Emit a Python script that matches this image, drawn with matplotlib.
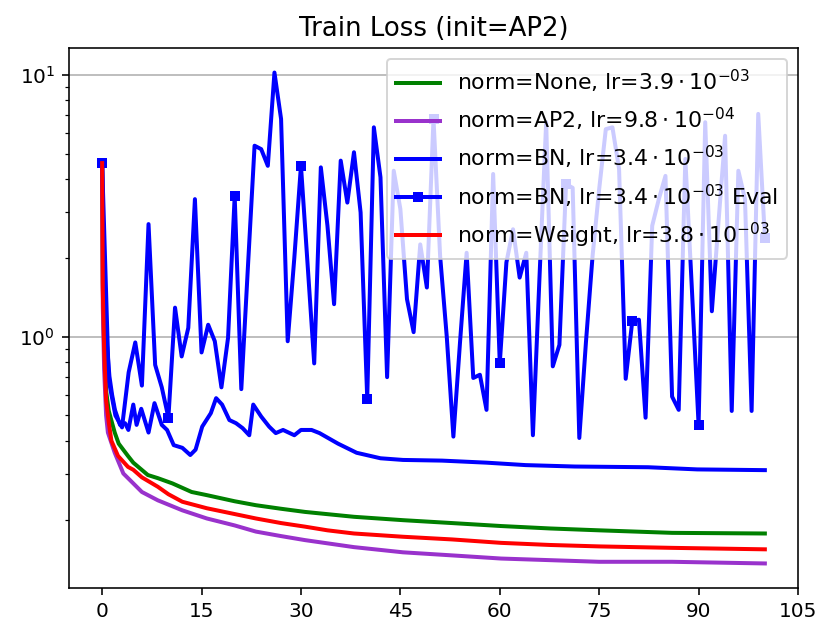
import matplotlib
matplotlib.use("Agg")
import matplotlib.pyplot as plt

# ---- data ----
none_ep = [0, 0.1, 0.3, 0.6, 1, 1.9, 2.5, 3.9, 4.7, 6.9, 8.4, 10.6, 13.5, 15.8, 20, 23.2, 27,
           30.6, 38, 45.4, 52.8, 60.2, 67.6, 75, 86, 100]
none_loss = [4.6, 1.6, 0.95, 0.62, 0.52, 0.43, 0.39, 0.35, 0.33, 0.296, 0.288, 0.275, 0.255, 0.248,
             0.235, 0.227, 0.22, 0.214, 0.205, 0.199, 0.194, 0.189, 0.185, 0.182, 0.178, 0.177]

ap2_ep = [0, 0.1, 0.3, 0.6, 0.87, 1.9, 3.2, 4.7, 6, 8.4, 12.1, 15.8, 20, 23.2, 27, 30.6, 38,
          45.4, 52.8, 60.2, 67.6, 75, 86, 100]
ap2_loss = [4.6, 1.3, 0.75, 0.5, 0.43, 0.36, 0.30, 0.275, 0.255, 0.237, 0.217, 0.202, 0.19, 0.18,
            0.173, 0.167, 0.157, 0.15, 0.146, 0.142, 0.14, 0.138, 0.138, 0.136]

bn_ep = [0, 0.15, 0.36, 0.7, 1.1, 1.5, 1.93, 2.7, 3.45, 3.96, 4.7, 5.2, 5.9, 7.0, 7.9, 9.0, 9.8,
         10.8, 12.1, 13.3, 14.1, 15.1, 16.4, 17.2, 18.1, 19.2, 20.2, 21.2, 22.2, 22.8, 24, 25.2,
         26.2, 27.3, 29, 30, 31.6, 32.8, 35.6, 38.4, 42, 45.4, 51.3, 58, 63.9, 71.3, 82.4, 89.8, 100]
bn_loss = [4.6, 2.5, 1.39, 0.95, 0.705, 0.6, 0.525, 0.46, 0.467, 0.44, 0.55, 0.46, 0.53, 0.43,
           0.557, 0.46, 0.44, 0.385, 0.376, 0.353, 0.37, 0.453, 0.51, 0.582, 0.55, 0.48, 0.467,
           0.447, 0.42, 0.55, 0.495, 0.453, 0.428, 0.44, 0.42, 0.44, 0.44, 0.428, 0.39, 0.36,
           0.343, 0.338, 0.336, 0.33, 0.323, 0.319, 0.317, 0.311, 0.309]

eval_ep = list(range(0, 101))
eval_loss = [4.6, 0.68, 0.5, 0.45, 0.73, 0.95, 0.65, 2.69, 0.78, 0.64,
             0.49, 1.29, 0.84, 1.08, 3.35, 0.87, 1.11, 0.96, 0.64, 0.99,
             3.44, 0.63, 1.85, 5.36, 5.2, 4.49, 10.2, 6.78, 0.96, 2.0,
             4.49, 1.89, 0.79, 4.43, 2.65, 1.33, 4.7, 3.25, 5.06, 2.98,
             0.58, 6.3, 4.06, 0.70, 4.3, 3.07, 1.39, 1.04, 2.25, 1.54,
             6.8, 2.03, 1.0, 0.415, 0.95, 2.09, 0.695, 0.715, 0.525, 4.18,
             0.79, 1.92, 2.57, 1.68, 2.09, 0.42, 1.7, 6.59, 0.77, 0.93,
             3.82, 3.7, 0.41, 0.95, 2.03, 3.66, 6.2, 6.3, 4.37, 0.69,
             1.15, 1.16, 0.49, 2.65, 3.35, 4.11, 0.59, 0.525, 4.77, 1.5,
             0.46, 6.59, 1.25, 2.73, 5.85, 0.52, 4.3, 3.35, 0.52, 7.09,
             2.39]

weight_ep = [0, 0.1, 0.3, 0.6, 1, 1.4, 2.4, 3.9, 4.7, 6, 8.4, 10, 12.1, 15.8, 20, 23.2, 27, 30.6,
             34, 38, 45.4, 52.8, 60.2, 67.6, 75, 86, 100]
weight_loss = [4.6, 1.5, 0.9, 0.57, 0.47, 0.40, 0.35, 0.318, 0.31, 0.29, 0.267, 0.25, 0.234,
               0.221, 0.21, 0.202, 0.194, 0.188, 0.182, 0.177, 0.172, 0.168, 0.163, 0.16, 0.158,
               0.156, 0.154]

labels = [r'norm=None, lr=$3.9\cdot10^{-03}$',
          r'norm=AP2, lr=$9.8\cdot10^{-04}$',
          r'norm=BN, lr=$3.4\cdot10^{-03}$',
          r'norm=BN, lr=$3.4\cdot10^{-03}$ Eval',
          r'norm=Weight, lr=$3.8\cdot10^{-03}$']
xticks = [0, 15, 30, 45, 60, 75, 90, 105]

fig = plt.figure(figsize=(830 / 144, 640 / 144), dpi=144)
ax = fig.add_axes([69 / 830, 1 - 588 / 640, (798 - 69) / 830, (588 - 48) / 640])

lw = 2.0
ax.plot(none_ep, none_loss, color='green', lw=lw, label=labels[0])
ax.plot(ap2_ep, ap2_loss, color='darkorchid', lw=lw, label=labels[1])
ax.plot(bn_ep, bn_loss, color='blue', lw=lw, label=labels[2])
ax.plot(eval_ep, eval_loss, color='blue', lw=lw, marker='s', markersize=4,
        markevery=10, label=labels[3])
ax.plot(weight_ep, weight_loss, color='red', lw=lw, label=labels[4])

ax.set_yscale('log')
ax.set_xticks(xticks)
ax.yaxis.grid(True, which='major')
ax.set_title('Train Loss (init=AP2)', fontsize=13)
ax.legend(loc='upper right', fontsize=11)

fig.savefig('out.png', dpi=144)
